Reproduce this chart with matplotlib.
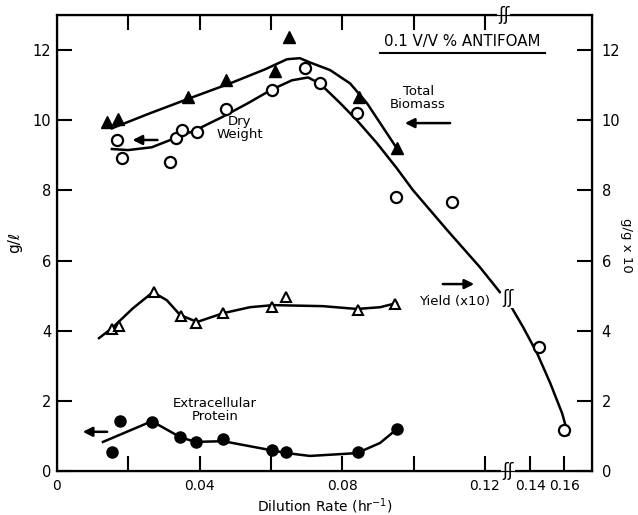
import matplotlib
matplotlib.use("Agg")
import matplotlib.pyplot as plt
import numpy as np

# ---- data ----
# total biomass (filled triangles)
tb_x = [0.0140, 0.0171, 0.0367, 0.0474, 0.0611, 0.0651, 0.0847, 0.0953]
tb_y = [9.95, 10.05, 10.66, 11.14, 11.40, 12.36, 10.66, 9.20]
tb_cx = [0.0154, 0.0261, 0.0373, 0.0485, 0.0583, 0.0645, 0.0681, 0.0709, 0.0766, 0.0822, 0.0869, 0.0914, 0.0953]
tb_cy = [9.77, 10.20, 10.63, 11.05, 11.45, 11.74, 11.77, 11.65, 11.43, 11.05, 10.49, 9.80, 9.20]

# dry weight (open circles)
dw_x = [0.0168, 0.0182, 0.0317, 0.0334, 0.0351, 0.0392, 0.0474, 0.0603, 0.0695, 0.0737, 0.0841, 0.0951, 0.1108, 0.1453, 0.1600]
dw_y = [9.43, 8.92, 8.80, 9.49, 9.72, 9.66, 10.31, 10.85, 11.48, 11.05, 10.20, 7.80, 7.66, 3.53, 1.17]
dw_cx = [0.0154, 0.0199, 0.0266, 0.0331, 0.0387, 0.0463, 0.0536, 0.0603, 0.0659, 0.0704, 0.0737,
         0.0794, 0.0841, 0.0897, 0.0953, 0.0998, 0.1094, 0.1186, 0.1242]
dw_cy = [9.18, 9.15, 9.23, 9.49, 9.71, 10.09, 10.49, 10.88, 11.14, 11.22, 11.05,
         10.49, 10.00, 9.35, 8.63, 8.01, 6.87, 5.81, 5.10]
dw_cx2 = [0.1294, 0.1359, 0.1441, 0.1518, 0.1588, 0.1624]
dw_cy2 = [4.64, 4.10, 3.36, 2.51, 1.65, 1.03]

# yield x10 (open triangles)
yl_x = [0.0155, 0.0174, 0.0272, 0.0348, 0.0390, 0.0466, 0.0603, 0.0642, 0.0844, 0.0948]
yl_y = [4.05, 4.13, 5.10, 4.42, 4.22, 4.50, 4.67, 4.96, 4.59, 4.76]
yl_cx = [0.0118, 0.0154, 0.0213, 0.0269, 0.0308, 0.0345, 0.0393, 0.0466, 0.0541, 0.0606, 0.0746, 0.0841, 0.0906, 0.0953]
yl_cy = [3.79, 4.07, 4.64, 5.10, 4.87, 4.45, 4.25, 4.50, 4.67, 4.73, 4.70, 4.62, 4.67, 4.79]

# extracellular protein (filled circles)
ep_x = [0.0155, 0.0177, 0.0266, 0.0345, 0.0390, 0.0465, 0.0603, 0.0642, 0.0844, 0.0953]
ep_y = [0.54, 1.42, 1.40, 0.97, 0.83, 0.91, 0.60, 0.54, 0.54, 1.20]
ep_cx = [0.0129, 0.0266, 0.0345, 0.0387, 0.0466, 0.0597, 0.0645, 0.0709, 0.0841, 0.0906, 0.0956]
ep_cy = [0.83, 1.42, 0.97, 0.83, 0.85, 0.60, 0.51, 0.43, 0.51, 0.80, 1.22]

xticks = [0.02, 0.04, 0.06, 0.08, 0.10, 0.12, 0.14, 0.16]
xlabels = ["", "0.04", "", "0.08", "", "0.12", "0.14", "0.16"]
yticks = [0, 2, 4, 6, 8, 10, 12]

# broken x axis: compressed beyond the break
B = 0.126
K = 0.4767
def fwd(x):
    x = np.asarray(x, dtype=float)
    return np.where(x <= B, x, B + (x - B) * K)
def inv(u):
    u = np.asarray(u, dtype=float)
    return np.where(u <= B, u, B + (u - B) / K)

plt.rcParams['font.family'] = 'DejaVu Sans'
fig = plt.figure(figsize=(6.38, 5.15), dpi=100)
ax = fig.add_axes([0.0893, 0.0854, 0.8386, 0.8854])
ax.set_xscale('function', functions=(fwd, inv))
ax.set_xlim(0, 0.1764)
ax.set_ylim(0, 13.0)

lw = 1.8
ax.plot(tb_cx, tb_cy, color='k', lw=lw)
ax.plot(dw_cx, dw_cy, color='k', lw=lw)
ax.plot(dw_cx2, dw_cy2, color='k', lw=lw)
ax.plot(yl_cx, yl_cy, color='k', lw=lw)
ax.plot(ep_cx, ep_cy, color='k', lw=lw)

ax.plot(tb_x, tb_y, '^', color='k', ms=8, ls='none')
ax.plot(dw_x, dw_y, 'o', mfc='white', mec='k', mew=1.6, ms=8, ls='none')
ax.plot(yl_x, yl_y, '^', mfc='white', mec='k', mew=1.5, ms=7.5, ls='none')
ax.plot(ep_x, ep_y, 'o', color='k', ms=8, ls='none')

for s in ax.spines.values():
    s.set_linewidth(1.6)

ax.set_xticks(xticks)
ax.set_xticklabels(xlabels)
ax.set_yticks(yticks)
ax.tick_params(axis='both', direction='in', length=11, width=1.5)
ax.tick_params(axis='x', pad=6, labelsize=10)
ax.tick_params(axis='y', pad=4, labelsize=10.5)
ax.text(0, -0.0175, "0", transform=ax.transAxes, ha='center', va='top', fontsize=10)

ax2 = ax.twinx()
ax2.set_ylim(0, 13.0)
ax2.set_yticks(yticks)
ax2.set_yticklabels([str(v) for v in yticks])
ax2.tick_params(axis='y', direction='in', length=11, width=1.5, labelsize=10.5, pad=7)

ax3 = ax.twiny()
ax3.set_xscale('function', functions=(fwd, inv))
ax3.set_xlim(ax.get_xlim())
ax3.set_xticks(xticks[:6])
ax3.set_xticklabels([])
ax3.tick_params(axis='x', direction='in', length=11, width=1.5)

ax.set_xlabel("Dilution Rate (hr$^{-1}$)", fontsize=10, labelpad=2)
fig.text(15 / 638, 1 - 242 / 515, "g/ℓ", rotation=90, ha='center', va='center', fontsize=11)
fig.text(626 / 638, 1 - 245 / 515, "g/g x 10", rotation=270, ha='center', va='center', fontsize=9.5)

# annotations
ax.text(0.757, 0.943, "0.1 V/V % ANTIFOAM", transform=ax.transAxes, ha='center', va='center', fontsize=10.8)
ax.plot([0.604, 0.912], [0.917, 0.917], transform=ax.transAxes, color='k', lw=1.5, clip_on=False)
ax.text(0.675, 0.818, "Total\nBiomass", transform=ax.transAxes, ha='center', va='center', fontsize=9.5, linespacing=0.95)
ax.text(0.342, 0.752, "Dry\nWeight", transform=ax.transAxes, ha='center', va='center', fontsize=9.5, linespacing=0.95)
ax.text(0.744, 0.371, "Yield (x10)", transform=ax.transAxes, ha='center', va='center', fontsize=9.5)
ax.text(0.295, 0.134, "Extracellular\nProtein", transform=ax.transAxes, ha='center', va='center', fontsize=9.5, linespacing=0.95)

arr = dict(arrowstyle='-|>', color='k', lw=1.8, mutation_scale=14)
ax.annotate("", xy=(0.645, 0.763), xytext=(0.740, 0.763), xycoords='axes fraction', arrowprops=arr)
ax.annotate("", xy=(0.136, 0.726), xytext=(0.193, 0.726), xycoords='axes fraction', arrowprops=arr)
ax.annotate("", xy=(0.785, 0.410), xytext=(0.716, 0.410), xycoords='axes fraction', arrowprops=arr)
ax.annotate("", xy=(0.043, 0.086), xytext=(0.099, 0.086), xycoords='axes fraction', arrowprops=arr)

# break marks
brk = dict(ha='center', va='center', fontsize=12, transform=ax.transAxes,
           bbox=dict(boxstyle='square,pad=0.05', fc='white', ec='none'), zorder=5)
ax.text(0.843, 0.0, "ʃʃ", clip_on=False, **brk)
ax.text(0.835, 1.0, "ʃʃ", clip_on=False, **brk)
ax.text(0.843, 0.379, "ʃʃ", **brk)

fig.savefig("out.png", dpi=100)
